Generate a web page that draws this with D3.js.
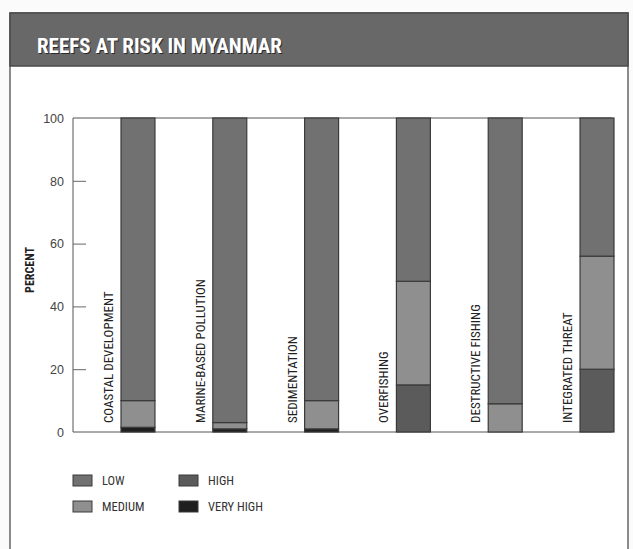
<!DOCTYPE html>
<html>
<head>
<meta charset="utf-8">
<script src="https://cdn.jsdelivr.net/npm/d3@7"></script>
<style>
  html, body { margin: 0; padding: 0; background: #fbfbfb; }
  svg { display: block; }
</style>
</head>
<body>
<svg id="chart" width="633" height="549"></svg>
<script>
const categories = ["COASTAL DEVELOPMENT", "MARINE-BASED POLLUTION", "SEDIMENTATION", "OVERFISHING", "DESTRUCTIVE FISHING", "INTEGRATED THREAT"];
const veryHigh = [1.5, 1, 1, 0, 0, 0];
const high = [0, 0, 0, 15, 0, 20];
const medium = [8.5, 2, 9, 33, 9, 36];
const low = [90, 97, 90, 52, 91, 44];
const yTicks = [0, 20, 40, 60, 80, 100];
const legendItems = ["LOW", "MEDIUM", "HIGH", "VERY HIGH"];

const keys = ["veryHigh", "high", "medium", "low"];
const colors = { low: "#717171", medium: "#8f8f8f", high: "#5b5b5b", veryHigh: "#1f1f1f" };
const legendKeys = { "LOW": "low", "MEDIUM": "medium", "HIGH": "high", "VERY HIGH": "veryHigh" };

const table = categories.map((c, i) => ({ cat: c, veryHigh: veryHigh[i], high: high[i], medium: medium[i], low: low[i] }));
const series = d3.stack().keys(keys)(table);

const font = "'Liberation Sans Narrow', 'Arial Narrow', 'Roboto Condensed', 'Liberation Sans', sans-serif";
const svg = d3.select("#chart");

// panel
svg.append("rect").attr("x", 10).attr("y", 13).attr("width", 618).attr("height", 545)
  .attr("fill", "#ffffff").attr("stroke", "#666").attr("stroke-width", 1.5);
// header
svg.append("rect").attr("x", 10).attr("y", 13).attr("width", 618).attr("height", 53)
  .attr("fill", "#686868").attr("stroke", "#4a4a4a").attr("stroke-width", 1.5);
svg.append("text").attr("x", 37).attr("y", 53).text("REEFS AT RISK IN MYANMAR")
  .attr("font-family", font).attr("font-weight", "bold").attr("font-size", 21)
  .attr("fill", "#2a2a2a").attr("transform", "translate(1,1)");
svg.append("text").attr("x", 37).attr("y", 53).text("REEFS AT RISK IN MYANMAR")
  .attr("font-family", font).attr("font-weight", "bold").attr("font-size", 21)
  .attr("fill", "#ffffff");

const x = d3.scaleBand().domain(categories).range([121, 614]).paddingInner(0.63).paddingOuter(0);
const y = d3.scaleLinear().domain([0, 100]).range([432, 118]);

// frame lines
svg.append("line").attr("x1", 73).attr("x2", 612).attr("y1", y(100)).attr("y2", y(100)).attr("stroke", "#555").attr("stroke-width", 1);
svg.append("line").attr("x1", 73).attr("x2", 612).attr("y1", y(0)).attr("y2", y(0)).attr("stroke", "#555").attr("stroke-width", 1);
svg.append("line").attr("x1", 73).attr("x2", 73).attr("y1", y(0)).attr("y2", y(100)).attr("stroke", "#555").attr("stroke-width", 1);

// y axis
const yAxis = d3.axisRight(y).tickValues(yTicks).tickSize(13).tickFormat(d3.format("d"));
const ga = svg.append("g").attr("transform", "translate(73,0)").call(yAxis);
ga.select(".domain").remove();
ga.selectAll(".tick line").attr("stroke", "#666").attr("display", d => (d === 0 || d === 100) ? "none" : null);
ga.selectAll(".tick text").attr("x", -9).attr("text-anchor", "end").attr("dy", "0.35em")
  .attr("font-family", "'Liberation Sans', Arial, sans-serif").attr("font-size", 12.5).attr("fill", "#444");

svg.append("text").attr("transform", "translate(34,270) rotate(-90)").attr("text-anchor", "middle")
  .text("PERCENT").attr("font-family", font).attr("font-weight", "bold").attr("font-size", 12).attr("fill", "#222");

// bars
const gb = svg.append("g");
series.forEach(s => {
  gb.selectAll(null).data(s.filter(d => d[1] - d[0] > 0)).enter().append("rect")
    .attr("x", d => x(d.data.cat))
    .attr("width", x.bandwidth())
    .attr("y", d => y(d[1]))
    .attr("height", d => y(d[0]) - y(d[1]))
    .attr("fill", colors[s.key])
    .attr("stroke", "#3a3a3a").attr("stroke-width", 1.2);
});

// category labels
svg.selectAll(null).data(categories).enter().append("text")
  .attr("transform", d => `translate(${x(d) - 8},${y(0) - 9}) rotate(-90)`)
  .attr("text-anchor", "start")
  .text(d => d)
  .attr("font-family", font).attr("font-size", 13).attr("fill", "#222");

// legend
const lg = svg.append("g");
legendItems.forEach((name, i) => {
  const col = Math.floor(i / 2), row = i % 2;
  const lx = 73 + col * 106, ly = 475 + row * 26;
  lg.append("rect").attr("x", lx).attr("y", ly).attr("width", 19).attr("height", 11)
    .attr("fill", colors[legendKeys[name]]).attr("stroke", "#3a3a3a").attr("stroke-width", 1);
  lg.append("text").attr("x", lx + 29).attr("y", ly + 10).text(name)
    .attr("font-family", font).attr("font-size", 12.5).attr("fill", "#333");
});
</script>
</body>
</html>
